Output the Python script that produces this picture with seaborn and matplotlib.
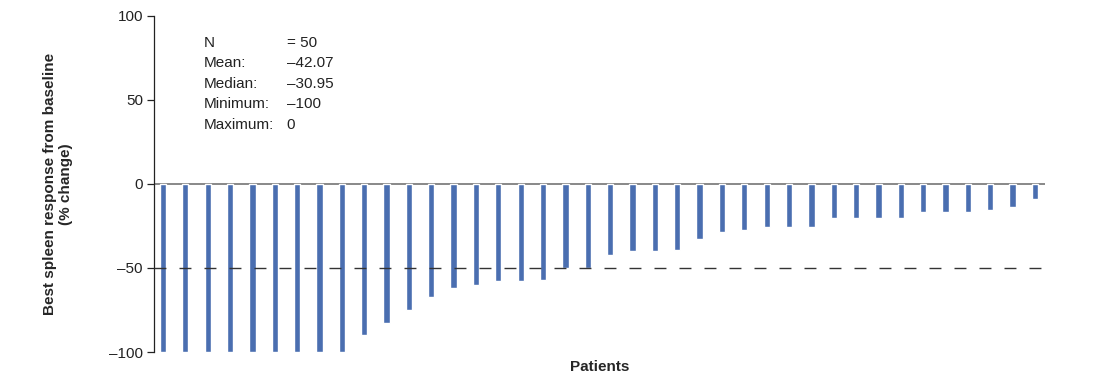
import numpy as np
import pandas as pd
import matplotlib
matplotlib.use('Agg')
import matplotlib.pyplot as plt
import seaborn as sns

# best spleen response per patient (% change), sorted
patients = list(range(1, 41))
response = [-100, -100, -100, -100, -100, -100, -100, -100, -100, -90,
            -83, -75, -67, -62, -60, -58, -58, -57, -50, -50,
            -42, -40, -40, -39, -33, -28.6, -27.4, -25.4, -25.4, -25.4,
            -20, -20, -20, -20, -16.5, -16.5, -16.5, -15.3, -13.5, -8.7]
stat_names = ['N', 'Mean:', 'Median:', 'Minimum:', 'Maximum:']
stat_values = ['= 50', '\u201342.07', '\u201330.95', '\u2013100', '0']
yticks = [100, 50, 0, -50, -100]

sns.set_style('white')
plt.rcParams['font.family'] = ['Liberation Sans', 'DejaVu Sans']

df = pd.DataFrame({'patient': patients, 'response': response})

fig = plt.figure(figsize=(10.96, 3.77), dpi=100)
ax = fig.add_axes([0.1405, 0.0663, 0.813, 0.8913])

sns.barplot(data=df, x='patient', y='response', color='#4a6eb0',
            saturation=1, width=0.28, ax=ax)

ax.axhline(0, color='#7f7f7f', lw=1.3, zorder=0)
ax.axhline(-50, color='#333333', lw=1.0, linestyle=(0, (8.6, 9.4)), zorder=3)

ax.set_xlim(-0.4, len(patients) - 0.55)
ax.set_ylim(-100, 100)
ax.set_yticks(yticks)
ax.set_yticklabels([str(t).replace('-', '\u2013') for t in yticks], fontsize=11, color='#222222')
ax.set_xticks([])
ax.tick_params(axis='y', direction='out', length=5, width=0.9, color='#222222', left=True, pad=3)

for s in ['top', 'right', 'bottom']:
    ax.spines[s].set_visible(False)
ax.spines['left'].set_color('#222222')
ax.spines['left'].set_linewidth(0.9)

ax.set_xlabel('Patients', fontsize=11, fontweight='bold', labelpad=6)
ax.set_ylabel('Best spleen response from baseline\n(% change)', fontsize=11,
              fontweight='bold', labelpad=26, linespacing=1.2)

for i, (n, v) in enumerate(zip(stat_names, stat_values)):
    y = 0.920 - i * 0.061
    ax.text(0.056, y, n, transform=ax.transAxes, fontsize=11, va='center', color='#222222')
    ax.text(0.149, y, v, transform=ax.transAxes, fontsize=11, va='center', color='#222222')

plt.savefig('out.png', dpi=100)
